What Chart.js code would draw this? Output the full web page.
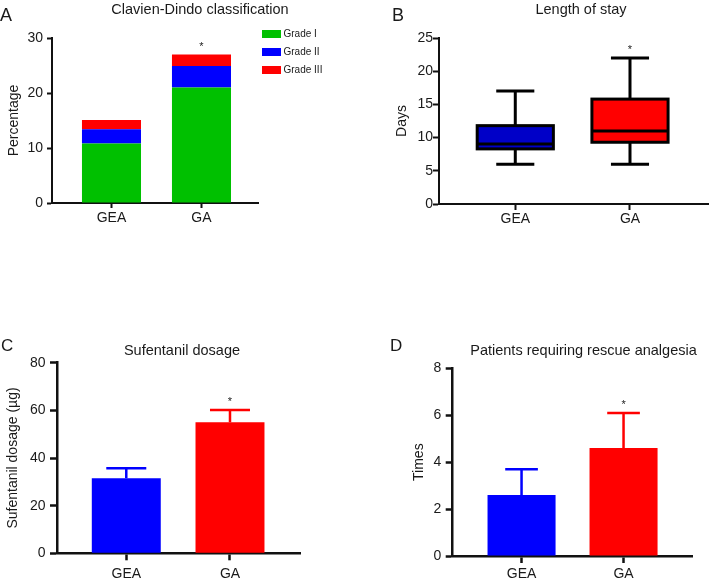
<!DOCTYPE html>
<html>
<head>
<meta charset="utf-8">
<script src="https://cdn.jsdelivr.net/npm/chart.js@4.4.0/dist/chart.umd.min.js"></script>
<style>
  body { margin: 0; background: #fff; }
  #fig { position: relative; width: 712px; height: 580px; font-family: "Liberation Sans", Arial, sans-serif; color: #1a1a1a; }
  canvas { position: absolute; }
  .lbl { position: absolute; font-size: 17px; line-height: 17px; }
  .big { font-size: 18px; line-height: 18px; }
  .ttl { position: absolute; font-size: 14.5px; line-height: 1; white-space: nowrap; transform: translate(-50%, -50%); }
  .legrow { position: absolute; left: 262px; height: 10px; line-height: 10px; font-size: 10px; display: flex; align-items: center; white-space: nowrap; }
  .sw { display: inline-block; width: 19px; height: 8px; margin-right: 2.5px; }
</style>
</head>
<body>
<div id="fig">
  <canvas id="cA" width="356" height="235" style="left:0;top:0"></canvas>
  <canvas id="cB" width="356" height="235" style="left:356px;top:0"></canvas>
  <canvas id="cC" width="356" height="300" style="left:0;top:280px"></canvas>
  <canvas id="cD" width="356" height="300" style="left:356px;top:280px"></canvas>

  <div class="lbl big" style="left:0;top:5.5px">A</div>
  <div class="lbl big" style="left:392px;top:5.5px">B</div>
  <div class="lbl" style="left:1px;top:337px">C</div>
  <div class="lbl" style="left:390px;top:337px">D</div>

  <div class="ttl" style="left:200px;top:9px">Clavien-Dindo classification</div>
  <div class="ttl" style="left:581px;top:9px">Length of stay</div>
  <div class="ttl" style="left:182px;top:349.5px">Sufentanil dosage</div>
  <div class="ttl" style="left:583.5px;top:350px">Patients requiring rescue analgesia</div>
  <div id="legA"></div>
</div>
<script>
// groups on the x axis
const groups = ['GEA', 'GA'];
const significant = [false, true];

// A: Clavien-Dindo classification (%)
const gradeNames = ['Grade I', 'Grade II', 'Grade III'];
const gradeI = [10.8, 21.0];
const gradeII = [2.6, 3.9];
const gradeIII = [1.7, 2.1];
const ticksA = [0, 10, 20, 30];

// B: length of stay (days), box and whiskers
const stayMin = [6, 6];
const stayQ1 = [8.3, 9.3];
const stayMedian = [9.05, 11.0];
const stayQ3 = [11.8, 15.8];
const stayMax = [17, 22];
const ticksB = [0, 5, 10, 15, 20, 25];

// C: sufentanil dosage (ug), mean + SD
const sufMean = [31.5, 55.0];
const sufSD = [4.2, 5.1];
const ticksC = [0, 20, 40, 60, 80];

// D: rescue analgesia (times), mean + SD
const rescueMean = [2.6, 4.6];
const rescueSD = [1.1, 1.5];
const ticksD = [0, 2, 4, 6, 8];

const gradeColors = ['#00C000', '#0000FF', '#FF0000'];
const groupColors = ['#0000FF', '#FF0000'];
const boxColors = ['#0000C8', '#FF0000'];
const ink = '#111';

Chart.defaults.font.family = '"Liberation Sans", Arial, sans-serif';
Chart.defaults.color = '#1a1a1a';

function makeScales(o) {
  const grid = {
    display: true, drawOnChartArea: false, drawTicks: true, offset: false,
    tickLength: o.tick, tickWidth: o.lw, tickColor: ink, color: ink
  };
  const border = { display: true, color: ink, width: o.lw };
  return {
    x: {
      type: 'linear', min: o.xMin, max: o.xMax, offset: false, stacked: !!o.stacked,
      afterBuildTicks: s => { s.ticks = groups.map((g, i) => ({ value: i + 1 })); },
      afterFit: s => { s.height = o.xH; },
      ticks: { callback: v => groups[v - 1], font: { size: 14 }, padding: o.xPad, maxRotation: 0, autoSkip: false },
      grid, border
    },
    y: {
      min: o.ticks[0], max: o.ticks[o.ticks.length - 1], stacked: !!o.stacked,
      afterBuildTicks: s => { s.ticks = o.ticks.map(v => ({ value: v })); },
      afterFit: s => { s.width = o.yW; },
      ticks: { font: { size: 14 }, padding: o.yPad },
      grid, border,
      title: { display: true, text: o.yTitle, font: { size: 14 }, padding: { top: o.titlePad, bottom: 0 } }
    }
  };
}

function baseOptions(o) {
  return {
    responsive: false,
    animation: false,
    layout: { padding: { top: o.top, right: o.right, left: 0, bottom: 0 } },
    plugins: { legend: { display: false }, tooltip: { enabled: false } },
    scales: makeScales(o)
  };
}

// asterisk above significant groups
function starPlugin(tops) {
  return {
    id: 'star',
    afterDatasetsDraw(chart) {
      const { ctx, scales: { x, y } } = chart;
      ctx.save();
      ctx.fillStyle = '#222';
      ctx.font = '11px "Liberation Sans", Arial, sans-serif';
      ctx.textAlign = 'center';
      ctx.textBaseline = 'alphabetic';
      groups.forEach((g, i) => {
        if (!significant[i]) return;
        ctx.fillText('*', x.getPixelForValue(i + 1), y.getPixelForValue(tops[i]) - 5);
      });
      ctx.restore();
    }
  };
}

// one-sided error bars (mean + SD) in bar colour
function errorPlugin(means, sds, capFrac, lw) {
  return {
    id: 'errbars',
    afterDatasetsDraw(chart) {
      const { ctx, scales: { y } } = chart;
      const meta = chart.getDatasetMeta(0);
      ctx.save();
      ctx.lineWidth = lw;
      meta.data.forEach((bar, i) => {
        const { x, width } = bar.getProps(['x', 'width'], true);
        const y0 = y.getPixelForValue(means[i]);
        const y1 = y.getPixelForValue(means[i] + sds[i]);
        const half = width * capFrac / 2;
        ctx.strokeStyle = groupColors[i];
        ctx.beginPath();
        ctx.moveTo(x, y0);
        ctx.lineTo(x, y1);
        ctx.moveTo(x - half, y1);
        ctx.lineTo(x + half, y1);
        ctx.stroke();
      });
      ctx.restore();
    }
  };
}

// box outline, whiskers and median for the box plot
const boxPlugin = {
  id: 'boxparts',
  afterDatasetsDraw(chart) {
    const { ctx, scales: { y } } = chart;
    const meta = chart.getDatasetMeta(0);
    ctx.save();
    ctx.strokeStyle = '#000';
    ctx.lineWidth = 3;
    meta.data.forEach((bar, i) => {
      const { x, width } = bar.getProps(['x', 'width'], true);
      const cap = width / 4;
      const yMin = y.getPixelForValue(stayMin[i]);
      const yQ1 = y.getPixelForValue(stayQ1[i]);
      const yMed = y.getPixelForValue(stayMedian[i]);
      const yQ3 = y.getPixelForValue(stayQ3[i]);
      const yMax = y.getPixelForValue(stayMax[i]);
      ctx.strokeRect(x - width / 2, yQ3, width, yQ1 - yQ3);
      ctx.beginPath();
      ctx.moveTo(x, yQ3); ctx.lineTo(x, yMax);
      ctx.moveTo(x - cap, yMax); ctx.lineTo(x + cap, yMax);
      ctx.moveTo(x, yQ1); ctx.lineTo(x, yMin);
      ctx.moveTo(x - cap, yMin); ctx.lineTo(x + cap, yMin);
      ctx.moveTo(x - width / 2, yMed); ctx.lineTo(x + width / 2, yMed);
      ctx.stroke();
    });
    ctx.restore();
  }
};

// ---- A: stacked bars
const gradeSeries = [gradeI, gradeII, gradeIII];
new Chart(document.getElementById('cA'), {
  type: 'bar',
  data: {
    datasets: gradeNames.map((name, k) => ({
      label: name,
      data: groups.map((g, i) => ({ x: i + 1, y: gradeSeries[k][i] })),
      backgroundColor: gradeColors[k],
      barPercentage: 0.656,
      categoryPercentage: 1
    }))
  },
  options: baseOptions({
    top: 38, right: 98, yW: 52, xH: 32, xMin: 0.339, xMax: 2.628,
    ticks: ticksA, yTitle: 'Percentage', titlePad: 6, tick: 5, lw: 2, xPad: 1.5, yPad: 4, stacked: true
  }),
  plugins: [starPlugin(groups.map((g, i) => gradeI[i] + gradeII[i] + gradeIII[i]))]
});

const legA = document.getElementById('legA');
gradeNames.forEach((name, k) => {
  const row = document.createElement('div');
  row.className = 'legrow';
  row.style.top = (28.7 + k * 18.3) + 'px';
  row.innerHTML = '<span class="sw" style="background:' + gradeColors[k] + '"></span>' + name;
  legA.appendChild(row);
});

// ---- B: box plot as floating bars
new Chart(document.getElementById('cB'), {
  type: 'bar',
  data: {
    datasets: [{
      label: 'Length of stay',
      data: groups.map((g, i) => ({ x: i + 1, y: [stayQ1[i], stayQ3[i]] })),
      backgroundColor: boxColors,
      borderWidth: 0,
      barPercentage: 0.664,
      categoryPercentage: 1
    }]
  },
  options: baseOptions({
    top: 38, right: 4, yW: 83, xH: 31, xMin: 0.335, xMax: 2.68,
    ticks: ticksB, yTitle: 'Days', titlePad: 38, tick: 6, lw: 2, xPad: 1, yPad: 0
  }),
  plugins: [boxPlugin, starPlugin(stayMax)]
});

// ---- C: sufentanil
new Chart(document.getElementById('cC'), {
  type: 'bar',
  data: {
    datasets: [{
      label: 'Sufentanil dosage',
      data: groups.map((g, i) => ({ x: i + 1, y: sufMean[i] })),
      backgroundColor: groupColors,
      barPercentage: 0.665,
      categoryPercentage: 1
    }]
  },
  options: baseOptions({
    top: 82.7, right: 56, yW: 57, xH: 26.7, xMin: 0.332, xMax: 2.675,
    ticks: ticksC, yTitle: 'Sufentanil dosage (\u00b5g)', titlePad: 5, tick: 7, lw: 2.5, xPad: 5, yPad: 4.5
  }),
  plugins: [errorPlugin(sufMean, sufSD, 0.58, 2.5), starPlugin(groups.map((g, i) => sufMean[i] + sufSD[i]))]
});

// ---- D: rescue analgesia
new Chart(document.getElementById('cD'), {
  type: 'bar',
  data: {
    datasets: [{
      label: 'Patients requiring rescue analgesia',
      data: groups.map((g, i) => ({ x: i + 1, y: rescueMean[i] })),
      backgroundColor: groupColors,
      barPercentage: 0.667,
      categoryPercentage: 1
    }]
  },
  options: baseOptions({
    top: 88.3, right: 19.3, yW: 96.7, xH: 24, xMin: 0.325, xMax: 2.678,
    ticks: ticksD, yTitle: 'Times', titlePad: 55, tick: 7, lw: 2.5, xPad: 3, yPad: 4.5
  }),
  plugins: [errorPlugin(rescueMean, rescueSD, 0.48, 2.5), starPlugin(groups.map((g, i) => rescueMean[i] + rescueSD[i]))]
});
</script>
</body>
</html>
